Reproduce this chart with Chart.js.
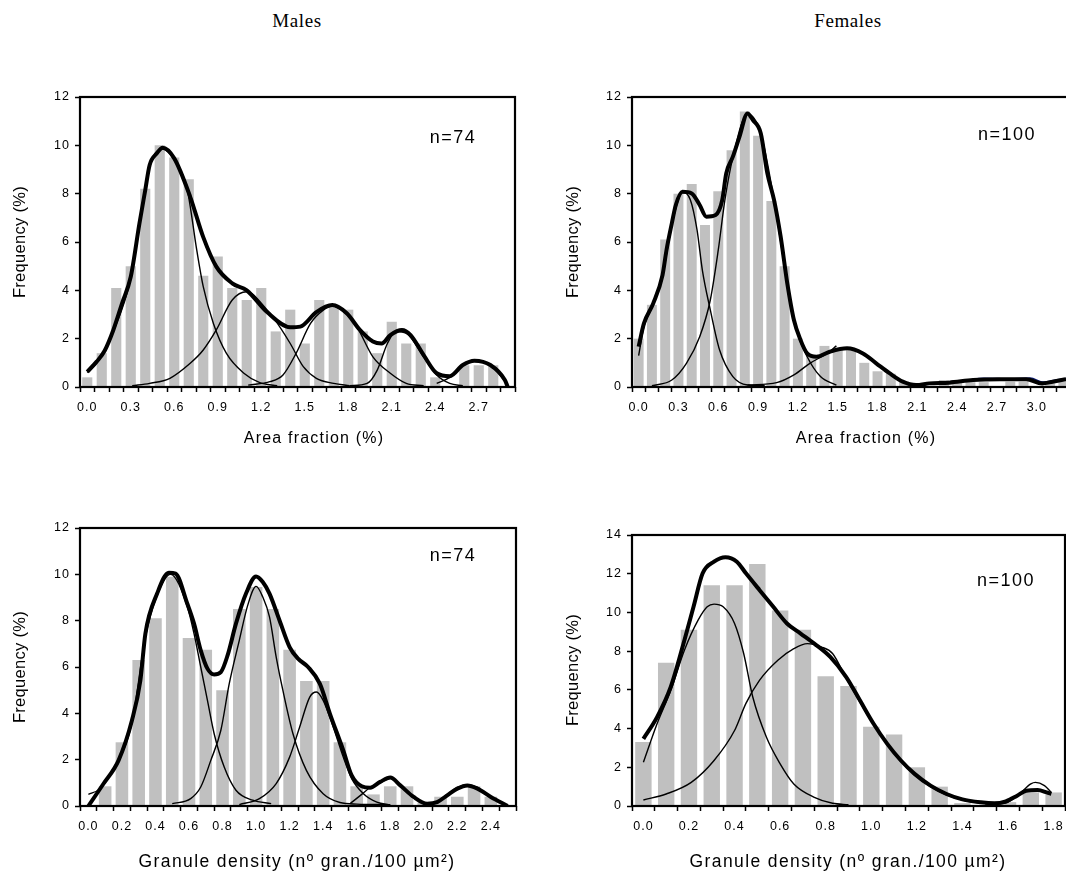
<!DOCTYPE html>
<html>
<head>
<meta charset="utf-8">
<script src="https://cdn.jsdelivr.net/npm/chart.js@4.4.0/dist/chart.umd.min.js"></script>
<style>
  body { margin: 0; width: 1066px; height: 888px; overflow: hidden; background: #fff; position: relative; }
  .panel { position: absolute; }
  .txt { position: absolute; white-space: nowrap; color: #000; transform: translate(-50%, -50%); line-height: 1; }
  .sans { font-family: "Liberation Sans", Arial, sans-serif; }
  .serif { font-family: "Liberation Serif", "Times New Roman", serif; font-size: 19px; letter-spacing: 0.6px; }
  .axt { font-size: 16px; letter-spacing: 1.2px; }
  .gdt { font-size: 17.5px; letter-spacing: 1.4px; }
  .yt { font-size: 16.5px; letter-spacing: 0.3px; transform: translate(-50%, -50%) rotate(-90deg); }
  .nn { font-size: 18px; letter-spacing: 1.5px; }
</style>
</head>
<body>
<div class="panel" style="left:0;top:60px"><canvas id="c1" width="540" height="400"></canvas></div>
<div class="panel" style="left:552px;top:60px"><canvas id="c2" width="540" height="400"></canvas></div>
<div class="panel" style="left:0;top:490px"><canvas id="c3" width="540" height="398"></canvas></div>
<div class="panel" style="left:552px;top:490px"><canvas id="c4" width="540" height="398"></canvas></div>

<div class="txt serif" style="left:297px;top:20px">Males</div>
<div class="txt serif" style="left:848px;top:20px">Females</div>

<div class="txt sans yt" style="left:19px;top:242px">Frequency (%)</div>
<div class="txt sans yt" style="left:572px;top:242px">Frequency (%)</div>
<div class="txt sans yt" style="left:19px;top:667px">Frequency (%)</div>
<div class="txt sans yt" style="left:572px;top:670px">Frequency (%)</div>

<div class="txt sans axt" style="left:314px;top:438px">Area fraction (%)</div>
<div class="txt sans axt" style="left:866px;top:438px">Area fraction (%)</div>
<div class="txt sans gdt" style="left:297px;top:862px">Granule density (nº gran./100 µm²)</div>
<div class="txt sans gdt" style="left:848px;top:862px">Granule density (nº gran./100 µm²)</div>

<div class="txt sans nn" style="left:453px;top:137px">n=74</div>
<div class="txt sans nn" style="left:1007px;top:134px">n=100</div>
<div class="txt sans nn" style="left:453px;top:555px">n=74</div>
<div class="txt sans nn" style="left:1006px;top:580px">n=100</div>

<script>
// ---- males, area fraction ----
const maleAreaBins = [0.0,0.1,0.2,0.3,0.4,0.5,0.6,0.7,0.8,0.9,1.0,1.1,1.2,1.3,1.4,1.5,1.6,1.7,1.8,1.9,2.0,2.1,2.2,2.3,2.4,2.5,2.6,2.7,2.8,2.9];
const maleAreaFreq = [0.4,1.4,4.1,5.0,8.2,10.0,9.5,8.6,4.6,5.4,4.1,3.6,4.1,2.3,3.2,1.8,3.6,3.4,3.2,2.3,1.4,2.7,1.8,1.8,0.4,0,0.9,0.9,0.9,0];
const maleAreaTicks = [0.0,0.3,0.6,0.9,1.2,1.5,1.8,2.1,2.4,2.7];
const maleAreaTotal = [[0.0,0.63],[0.065,1.05],[0.12,1.5],[0.18,2.36],[0.24,3.46],[0.3,4.56],[0.36,6.77],[0.4,8.15],[0.43,9.18],[0.48,9.67],[0.52,9.9],[0.6,9.46],[0.71,7.87],[0.8,6.2],[0.89,4.98],[1.0,4.29],[1.1,4.0],[1.24,3.1],[1.4,2.47],[1.47,2.5],[1.58,3.1],[1.69,3.39],[1.79,3.05],[1.88,2.36],[1.97,1.88],[2.03,1.8],[2.09,2.15],[2.17,2.36],[2.23,2.15],[2.32,1.32],[2.41,0.57],[2.5,0.45],[2.59,0.91],[2.67,1.09],[2.78,0.91],[2.88,0.29],[2.9,0.0]];
const maleAreaComp1 = [[0.0,0.6],[0.065,1.0],[0.18,2.3],[0.3,4.5],[0.36,6.7],[0.43,9.1],[0.52,9.85],[0.6,9.4],[0.69,8.15],[0.755,5.67],[0.8,4.15],[0.87,2.63],[0.96,1.39],[1.08,0.57],[1.19,0.18],[1.31,0.05]];
const maleAreaComp2 = [[0.31,0.05],[0.43,0.15],[0.57,0.36],[0.71,0.98],[0.8,1.53],[0.89,2.36],[1.0,3.6],[1.1,3.94],[1.24,3.19],[1.28,2.9],[1.4,1.8],[1.49,0.84],[1.58,0.36],[1.7,0.15],[1.81,0.05]];
const maleAreaComp3 = [[1.11,0.08],[1.26,0.22],[1.35,0.5],[1.44,1.39],[1.54,2.63],[1.63,3.19],[1.69,3.35],[1.77,3.1],[1.86,2.48],[1.97,1.25],[2.09,0.57],[2.2,0.15],[2.32,0.05]];
const maleAreaComp4 = [[1.81,0.05],[1.93,0.15],[2.0,0.7],[2.07,1.8],[2.13,2.29],[2.2,2.22],[2.32,1.25],[2.41,0.5],[2.5,0.15],[2.59,0.05]];
const maleAreaComp5 = [[2.41,0.15],[2.5,0.4],[2.59,0.91],[2.67,1.09],[2.78,0.91],[2.9,0.1]];

// ---- females, area fraction ----
const femaleAreaBins = [0.0,0.1,0.2,0.3,0.4,0.5,0.6,0.7,0.8,0.9,1.0,1.1,1.2,1.3,1.4,1.5,1.6,1.7,1.8,1.9,2.0,2.1,2.2,2.3,2.4,2.5,2.6,2.7,2.8,2.9,3.0,3.1,3.2];
const femaleAreaFreq = [2.0,3.4,6.1,8.0,8.4,6.7,8.1,9.8,11.4,10.4,7.7,5.0,2.0,1.3,1.7,1.6,1.6,1.0,0.65,0.55,0.22,0,0,0.29,0.29,0.2,0.2,0,0.22,0.22,0,0.15,0.22];
const femaleAreaTicks = [0.0,0.3,0.6,0.9,1.2,1.5,1.8,2.1,2.4,2.7,3.0];
const femaleAreaTotal = [[0.0,1.67],[0.04,2.63],[0.11,3.46],[0.18,4.63],[0.21,5.67],[0.25,6.77],[0.28,7.53],[0.33,8.08],[0.4,8.01],[0.46,7.53],[0.51,7.05],[0.58,7.12],[0.63,7.74],[0.66,8.84],[0.71,9.53],[0.76,10.36],[0.82,11.32],[0.86,11.05],[0.92,10.5],[0.97,8.84],[1.02,7.74],[1.07,6.22],[1.12,4.29],[1.17,2.77],[1.22,1.94],[1.27,1.39],[1.34,1.25],[1.44,1.46],[1.57,1.6],[1.69,1.39],[1.79,0.98],[1.89,0.57],[1.99,0.22],[2.09,0.08],[2.19,0.15],[2.34,0.18],[2.52,0.29],[2.72,0.32],[2.92,0.32],[3.04,0.15],[3.12,0.22],[3.22,0.32]];
const femaleAreaComp1 = [[0.0,1.3],[0.04,2.5],[0.11,3.4],[0.18,4.6],[0.25,6.7],[0.33,8.05],[0.39,7.74],[0.44,6.5],[0.48,4.84],[0.54,3.19],[0.61,1.53],[0.71,0.43],[0.82,0.08],[0.95,0.05]];
const femaleAreaComp2 = [[0.1,0.05],[0.25,0.29],[0.36,0.98],[0.46,2.08],[0.54,3.6],[0.6,5.67],[0.65,7.74],[0.71,9.5],[0.82,11.3],[0.92,10.5],[1.02,7.74],[1.12,4.29],[1.19,2.36],[1.27,1.25],[1.37,0.43],[1.49,0.08]];
const femaleAreaComp3 = [[0.82,0.08],[1.04,0.18],[1.17,0.5],[1.29,0.98],[1.42,1.39],[1.49,1.7]];
const femaleAreaTail = [[2.15,0.08],[2.3,0.2],[2.45,0.25],[2.6,0.36],[2.8,0.33],[2.95,0.37],[3.05,0.2],[3.15,0.3],[3.22,0.35]];

// ---- males, granule density ----
const maleDensBins = [0.0,0.1,0.2,0.3,0.4,0.5,0.6,0.7,0.8,0.9,1.0,1.1,1.2,1.3,1.4,1.5,1.6,1.7,1.8,1.9,2.0,2.1,2.2,2.3,2.4,2.5];
const maleDensFreq = [0,0.85,2.75,6.3,8.1,9.9,7.25,6.75,5.0,8.5,9.45,8.5,6.75,5.4,5.4,2.75,0.85,0.5,0.85,0.85,0.15,0.4,0.4,0.85,0.4,0];
const maleDensTicks = [0.0,0.2,0.4,0.6,0.8,1.0,1.2,1.4,1.6,1.8,2.0,2.2,2.4];
const maleDensTotal = [[0.0,0.0],[0.09,0.96],[0.18,1.97],[0.26,3.7],[0.31,5.42],[0.34,7.44],[0.41,9.17],[0.48,10.07],[0.52,10.03],[0.59,8.73],[0.63,7.87],[0.67,6.72],[0.71,5.93],[0.75,5.68],[0.79,5.78],[0.83,6.5],[0.88,7.87],[0.94,9.17],[1.0,9.91],[1.04,9.67],[1.08,9.17],[1.14,8.01],[1.2,6.86],[1.25,6.36],[1.31,6.0],[1.38,5.28],[1.44,3.99],[1.52,2.4],[1.57,1.32],[1.63,0.85],[1.68,0.79],[1.74,1.04],[1.8,1.23],[1.86,0.89],[1.94,0.39],[2.02,0.1],[2.08,0.17],[2.14,0.46],[2.2,0.75],[2.26,0.89],[2.32,0.75],[2.4,0.39],[2.5,0.0]];
const maleDensComp1 = [[0.0,0.5],[0.07,0.75],[0.15,1.6],[0.26,3.6],[0.34,7.3],[0.41,9.1],[0.49,10.0],[0.59,8.6],[0.63,7.44],[0.67,6.0],[0.71,4.56],[0.75,3.12],[0.81,1.68],[0.88,0.68],[0.98,0.25],[1.09,0.1]];
const maleDensComp2 = [[0.5,0.1],[0.61,0.32],[0.67,0.82],[0.73,1.97],[0.79,3.27],[0.84,5.28],[0.9,7.15],[0.95,8.66],[1.0,9.48],[1.04,9.02],[1.08,8.16],[1.12,6.43],[1.16,4.99],[1.22,3.12],[1.3,1.54],[1.4,0.53],[1.5,0.15],[1.6,0.08],[1.8,0.06]];
const maleDensComp3 = [[0.9,0.06],[1.02,0.32],[1.12,0.97],[1.2,2.11],[1.26,3.41],[1.32,4.7],[1.36,4.92],[1.4,4.56],[1.46,3.41],[1.52,2.11],[1.57,1.18],[1.64,0.53],[1.72,0.17],[1.8,0.05]];
const maleDensComp4 = [[1.56,0.1],[1.63,0.5],[1.68,0.8],[1.74,1.0],[1.8,1.2],[1.86,0.85],[1.94,0.35],[2.02,0.05]];
const maleDensComp5 = [[2.0,0.05],[2.08,0.2],[2.14,0.5],[2.2,0.8],[2.26,0.92],[2.32,0.8],[2.4,0.4],[2.5,0.0]];

// ---- females, granule density ----
const femaleDensBins = [0.0,0.1,0.2,0.3,0.4,0.5,0.6,0.7,0.8,0.9,1.0,1.1,1.2,1.3,1.4,1.5,1.6,1.7,1.8];
const femaleDensFreq = [3.3,7.4,9.1,11.4,11.4,12.5,10.1,9.1,6.7,6.2,4.1,3.7,2.0,1.0,0.15,0,0.2,0.7,0.7];
const femaleDensTicks = [0.0,0.2,0.4,0.6,0.8,1.0,1.2,1.4,1.6,1.8];
const femaleDensTotal = [[0.0,3.47],[0.06,4.59],[0.12,6.15],[0.18,8.56],[0.22,10.29],[0.26,12.02],[0.31,12.62],[0.36,12.85],[0.41,12.62],[0.45,12.02],[0.51,11.15],[0.57,10.29],[0.63,9.43],[0.69,8.91],[0.75,8.39],[0.82,7.7],[0.89,6.66],[0.95,5.46],[1.01,4.25],[1.07,3.21],[1.13,2.35],[1.19,1.66],[1.26,1.05],[1.33,0.62],[1.4,0.34],[1.48,0.19],[1.54,0.14],[1.59,0.24],[1.64,0.53],[1.68,0.79],[1.73,0.83],[1.77,0.7],[1.79,0.62]];
const femaleDensComp1 = [[0.0,2.26],[0.06,4.25],[0.12,5.97],[0.18,8.05],[0.24,9.6],[0.28,10.29],[0.31,10.43],[0.35,10.29],[0.4,9.43],[0.44,7.88],[0.48,5.63],[0.54,3.55],[0.6,2.18],[0.66,1.14],[0.75,0.45],[0.83,0.14],[0.9,0.07]];
const femaleDensComp2 = [[0.0,0.31],[0.1,0.62],[0.21,1.22],[0.31,2.35],[0.4,3.9],[0.45,5.3],[0.51,6.5],[0.59,7.53],[0.66,8.13],[0.72,8.39],[0.78,8.22],[0.83,7.88],[0.89,6.6],[1.01,4.2],[1.13,2.3],[1.26,1.0],[1.4,0.3],[1.54,0.1]];
const femaleDensComp3 = [[1.5,0.05],[1.59,0.15],[1.65,0.62],[1.7,1.14],[1.72,1.22],[1.76,1.05],[1.79,0.7]];

const FONT = '"Liberation Sans", Arial, sans-serif';

// frame round the plot area, like the Excel box
const frame = {
    id: 'frame',
    beforeDraw(chart) {
        chart.ctx.letterSpacing = '1px';
    },
    afterDraw(chart) {
        const { ctx, chartArea: a } = chart;
        ctx.save();
        ctx.strokeStyle = '#000';
        ctx.lineWidth = 2.2;
        ctx.strokeRect(a.left, a.top, a.right - a.left, a.bottom - a.top);
        ctx.restore();
    }
};

function curve(points, width, color) {
    return {
        type: 'line',
        data: points.map(p => ({ x: p[0], y: p[1] })),
        borderColor: color || '#000',
        borderWidth: width,
        pointRadius: 0,
        fill: false,
        cubicInterpolationMode: 'monotone',
        order: width > 2 ? 0 : 1
    };
}

function makePanel(id, o) {
    const last = o.bins[o.bins.length - 1];
    const edges = o.bins.map(b => b - 0.05).concat([last + 0.05]);

    const datasets = o.thin.map(c => curve(c, 1.4));
    if (o.tail) datasets.push(curve(o.tail, 1.6, '#0a1a70'));
    datasets.push(curve(o.total, 4));
    datasets.push({
        type: 'bar',
        data: o.bins.map((b, i) => ({ x: b, y: o.freq[i] })),
        backgroundColor: '#c0c0c0',
        borderWidth: 0,
        barPercentage: o.barPct,
        categoryPercentage: 1,
        order: 2
    });

    new Chart(document.getElementById(id), {
        type: 'bar',
        data: { datasets: datasets },
        plugins: [frame],
        options: {
            responsive: false,
            animation: false,
            events: [],
            layout: { padding: { top: o.padTop, right: o.padRight, left: 0, bottom: 0 } },
            plugins: { legend: { display: false }, tooltip: { enabled: false } },
            scales: {
                x: {
                    type: 'linear',
                    min: edges[0],
                    max: edges[edges.length - 1],
                    offset: false,
                    afterBuildTicks: s => {
                        s.ticks = edges.map(v => ({ value: v, edge: true }))
                            .concat(o.ticks.map(v => ({ value: v })));
                    },
                    afterFit: s => { s.height = o.xAxisH; },
                    border: { display: false },
                    grid: {
                        offset: false,
                        drawOnChartArea: false,
                        tickLength: 5,
                        tickWidth: 1.5,
                        tickColor: c => (c.tick && c.tick.edge) ? '#000' : 'rgba(0,0,0,0)'
                    },
                    ticks: {
                        autoSkip: false,
                        maxRotation: 0,
                        padding: 8,
                        color: '#000',
                        font: { family: FONT, size: 12.5 },
                        callback: (v, i, t) => t[i].edge ? '' : v.toFixed(1)
                    }
                },
                y: {
                    min: 0,
                    max: o.yMax,
                    afterFit: s => { s.width = 80; },
                    border: { display: false },
                    grid: { drawOnChartArea: false, tickLength: 5, tickWidth: 1.5, tickColor: '#000' },
                    ticks: { stepSize: 2, padding: 5, color: '#000', font: { family: FONT, size: 12.5 } }
                }
            }
        }
    });
}

makePanel('c1', {
    bins: maleAreaBins, freq: maleAreaFreq, ticks: maleAreaTicks, total: maleAreaTotal,
    thin: [maleAreaComp1, maleAreaComp2, maleAreaComp3, maleAreaComp4, maleAreaComp5],
    yMax: 12, padTop: 37, padRight: 25, xAxisH: 73, barPct: 0.7
});
makePanel('c2', {
    bins: femaleAreaBins, freq: femaleAreaFreq, ticks: femaleAreaTicks, total: femaleAreaTotal,
    thin: [femaleAreaComp1, femaleAreaComp2, femaleAreaComp3], tail: femaleAreaTail,
    yMax: 12, padTop: 37, padRight: 22, xAxisH: 73, barPct: 0.75
});
makePanel('c3', {
    bins: maleDensBins, freq: maleDensFreq, ticks: maleDensTicks, total: maleDensTotal,
    thin: [maleDensComp1, maleDensComp2, maleDensComp3, maleDensComp4, maleDensComp5],
    yMax: 12, padTop: 38, padRight: 24, xAxisH: 82, barPct: 0.75
});
makePanel('c4', {
    bins: femaleDensBins, freq: femaleDensFreq, ticks: femaleDensTicks, total: femaleDensTotal,
    thin: [femaleDensComp1, femaleDensComp2, femaleDensComp3],
    yMax: 14, padTop: 45, padRight: 27, xAxisH: 82, barPct: 0.72
});
</script>
</body>
</html>
